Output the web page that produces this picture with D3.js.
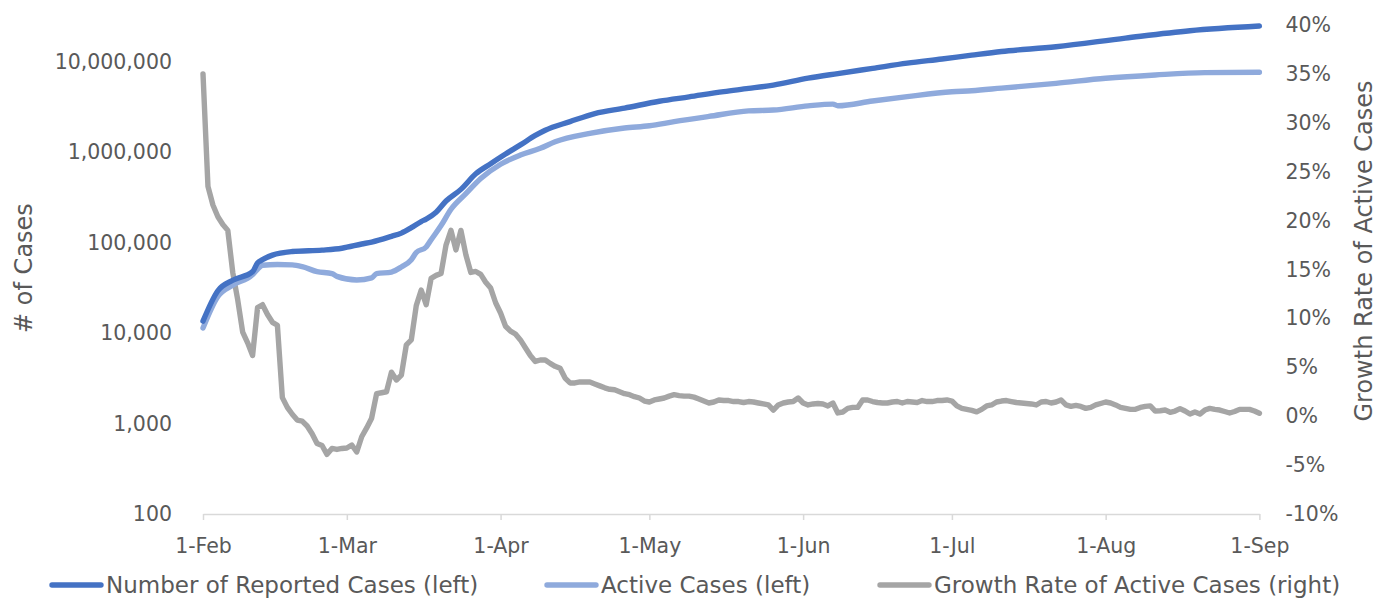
<!DOCTYPE html>
<html>
<head>
<meta charset="utf-8">
<script src="https://cdn.jsdelivr.net/npm/d3@7"></script>
<style>
  html, body { margin: 0; padding: 0; background: #ffffff; }
  svg { display: block; }
  text { font-family: "DejaVu Sans", sans-serif; fill: #595959; }
</style>
</head>
<body>
<svg id="chart" width="1379" height="598"></svg>
<script>
// ---------------- DATA ----------------
const startDate = new Date(2020, 1, 1);           // 1-Feb-2020
const monthTicks = ["1-Feb", "1-Mar", "1-Apr", "1-May", "1-Jun", "1-Jul", "1-Aug", "1-Sep"];
const leftTicks = [100, 1000, 10000, 100000, 1000000, 10000000];
const rightTicks = [-10, -5, 0, 5, 10, 15, 20, 25, 30, 35, 40];

// Growth rate of active cases (%), one value per day from 1-Feb to 1-Sep
const growthRate = [
  35.0, 23.5, 21.6, 20.4, 19.6, 19.0, 14.7, 11.9, 8.6, 7.5,
  6.2, 11.1, 11.4, 10.4, 9.6, 9.3, 1.9, 0.9, 0.2, -0.4,
  -0.5, -1.0, -1.8, -2.8, -3.0, -3.9, -3.3, -3.4, -3.3, -3.25,
  -2.95, -3.66, -2.1, -1.2, -0.2, 2.3, 2.4, 2.5, 4.5, 3.7,
  4.2, 7.3, 7.8, 11.3, 12.9, 11.4, 14.1, 14.4, 14.6, 17.5,
  19.0, 17.0, 19.0, 16.5, 14.7, 14.8, 14.5, 13.7, 13.1, 11.6,
  10.55, 9.2, 8.7, 8.4, 7.8, 7.0, 6.2, 5.6, 5.75, 5.75,
  5.4, 5.1, 4.9, 3.9, 3.4, 3.4, 3.5, 3.5, 3.5, 3.3,
  3.1, 2.9, 2.75, 2.7, 2.5, 2.3, 2.2, 2.0, 1.86, 1.55,
  1.45, 1.66, 1.76, 1.86, 2.05, 2.2, 2.1, 2.05, 2.05, 1.95,
  1.76, 1.55, 1.35, 1.45, 1.66, 1.6, 1.6, 1.5, 1.5, 1.4,
  1.5, 1.45, 1.35, 1.25, 1.15, 0.63, 1.15, 1.35, 1.45, 1.5,
  1.86, 1.35, 1.15, 1.25, 1.3, 1.25, 1.05, 1.35, 0.33, 0.43,
  0.8, 0.9, 0.9, 1.66, 1.66, 1.5, 1.4, 1.35, 1.35, 1.45,
  1.5, 1.35, 1.5, 1.45, 1.4, 1.6, 1.5, 1.5, 1.6, 1.6,
  1.66, 1.55, 1.05, 0.8, 0.7, 0.6, 0.45, 0.7, 1.05, 1.15,
  1.45, 1.55, 1.6, 1.5, 1.4, 1.35, 1.3, 1.25, 1.15, 1.45,
  1.5, 1.35, 1.45, 1.66, 1.15, 1.0, 1.1, 1.0, 0.8, 0.9,
  1.15, 1.3, 1.45, 1.35, 1.15, 0.9, 0.8, 0.7, 0.7, 0.9,
  1.0, 1.05, 0.53, 0.56, 0.63, 0.4, 0.53, 0.77, 0.53, 0.22,
  0.43, 0.22, 0.63, 0.8, 0.7, 0.63, 0.48, 0.33, 0.48, 0.7,
  0.7, 0.7, 0.53, 0.3
];

// Number of reported cases (days after 1-Feb, value)
const reportedDays = [0, 3, 6, 10, 11, 12, 14, 18, 24, 28, 32, 34, 38, 40, 42, 44, 45, 47, 49, 52,
  55, 58, 61, 64, 67, 69, 74, 79, 85, 92, 98, 105, 110, 115, 122, 128, 135, 142, 149, 155,
  161, 172, 186, 199, 213];
const reportedCases = [13600, 29500, 38500, 48000, 60000, 65000, 73000, 80000, 83000, 87000,
  97000, 102000, 118000, 128000, 147000, 172000, 183000, 218000, 290000, 390000,
  580000, 750000, 960000, 1210000, 1540000, 1760000, 2190000, 2690000, 3090000, 3680000,
  4120000, 4710000, 5100000, 5560000, 6620000, 7450000, 8500000, 9700000, 10800000, 11900000,
  13050000, 14750000, 18400000, 22200000, 25000000];

// Active cases (days after 1-Feb, value)
const activeDays = [0, 3, 6, 10, 11, 12, 15, 18, 20, 23, 26, 27, 31, 34, 35, 38, 40, 42, 43, 45,
  46, 48, 50, 53, 56, 60, 64, 68, 71, 78, 85, 90, 95, 102, 110, 115, 122, 127, 128, 135,
  142, 151, 155, 161, 172, 182, 192, 202, 213];
const activeCases = [11400, 25500, 34000, 44500, 51000, 56500, 57500, 57000, 54500, 48000,
  45500, 42500, 38800, 41000, 45500, 47500, 54000, 65000, 78000, 90000,
  108000, 155000, 235000, 350000, 515000, 740000, 935000, 1110000, 1310000, 1620000,
  1860000, 1970000, 2190000, 2500000, 2880000, 2940000, 3270000, 3420000, 3280000, 3700000,
  4140000, 4690000, 4810000, 5140000, 5810000, 6600000, 7180000, 7620000, 7690000];

const seriesNames = ["Number of Reported Cases (left)", "Active Cases (left)", "Growth Rate of Active Cases (right)"];
const seriesColors = ["#4472C4", "#8FAADC", "#A5A5A5"];

// ---------------- CHART ----------------
const svg = d3.select("#chart");
const plot = { left: 203, right: 1259.4, top: 25, bottom: 514 };
const dayToDate = d => d3.timeDay.offset(startDate, d);

const x = d3.scaleTime()
  .domain([startDate, dayToDate(213)])
  .range([plot.left, plot.right]);

const yLeft = d3.scaleLog()
  .domain([100, Math.pow(10, 2 + (plot.bottom - plot.top) / 90.4)])
  .range([plot.bottom, plot.top]);

const yRight = d3.scaleLinear()
  .domain([-10, 40])
  .range([plot.bottom, plot.top]);

const monthDates = monthTicks.map((_, i) => d3.timeMonth.offset(startDate, i));

// X axis
const xAxis = svg.append("g")
  .attr("transform", `translate(0,${plot.bottom})`)
  .call(d3.axisBottom(x).tickValues(monthDates)
    .tickFormat((d, i) => monthTicks[i]).tickSize(6).tickSizeOuter(0));
xAxis.select(".domain").attr("stroke", "#d9d9d9").attr("stroke-width", 1.5);
xAxis.selectAll(".tick line").attr("stroke", "#d9d9d9").attr("stroke-width", 1.5);
xAxis.selectAll(".tick text")
  .attr("y", 39).attr("dy", 0)
  .style("font-size", "20.5px").attr("fill", "#595959");

// Left axis
const leftAxis = svg.append("g")
  .attr("transform", `translate(${plot.left},0)`)
  .call(d3.axisLeft(yLeft).tickValues(leftTicks)
    .tickFormat(d3.format(",")).tickSize(0).tickPadding(31));
leftAxis.select(".domain").remove();
leftAxis.selectAll(".tick text").style("font-size", "20.5px").attr("fill", "#595959");

// Right axis
const rightAxis = svg.append("g")
  .attr("transform", `translate(${plot.right},0)`)
  .call(d3.axisRight(yRight).tickValues(rightTicks)
    .tickFormat(d => d + "%").tickSize(0).tickPadding(26));
rightAxis.select(".domain").remove();
rightAxis.selectAll(".tick text").style("font-size", "20.5px").attr("fill", "#595959");

// Axis titles
svg.append("text")
  .attr("transform", "translate(32,268) rotate(-90)")
  .attr("text-anchor", "middle")
  .style("font-size", "24px")
  .text("# of Cases");

svg.append("text")
  .attr("transform", "translate(1372,251) rotate(-90)")
  .attr("text-anchor", "middle")
  .style("font-size", "24px")
  .text("Growth Rate of Active Cases");

// Lines
const lineLeft = d3.line()
  .curve(d3.curveMonotoneX)
  .x(d => x(dayToDate(d[0])))
  .y(d => yLeft(d[1]));
const lineRight = d3.line()
  .x(d => x(dayToDate(d[0])))
  .y(d => yRight(d[1]));

const lineStyle = sel => sel.attr("fill", "none")
  .attr("stroke-width", 5.4)
  .attr("stroke-linecap", "round")
  .attr("stroke-linejoin", "round");

svg.append("path")
  .datum(growthRate.map((v, i) => [i, v]))
  .attr("d", lineRight)
  .attr("stroke", seriesColors[2])
  .call(lineStyle);

svg.append("path")
  .datum(activeDays.map((d, i) => [d, activeCases[i]]))
  .attr("d", lineLeft)
  .attr("stroke", seriesColors[1])
  .call(lineStyle);

svg.append("path")
  .datum(reportedDays.map((d, i) => [d, reportedCases[i]]))
  .attr("d", lineLeft)
  .attr("stroke", seriesColors[0])
  .call(lineStyle);

// Legend
const legendX = [52, 547, 880];
const legend = svg.append("g");
seriesNames.forEach((name, i) => {
  const g = legend.append("g").attr("transform", `translate(${legendX[i]},585)`);
  g.append("line")
    .attr("x1", 0).attr("x2", 49).attr("y1", 0).attr("y2", 0)
    .attr("stroke", seriesColors[i]).attr("stroke-width", 5.4)
    .attr("stroke-linecap", "round");
  g.append("text")
    .attr("x", 54).attr("y", 0).attr("dy", "0.36em")
    .style("font-size", "23px")
    .text(name);
});
</script>
</body>
</html>
